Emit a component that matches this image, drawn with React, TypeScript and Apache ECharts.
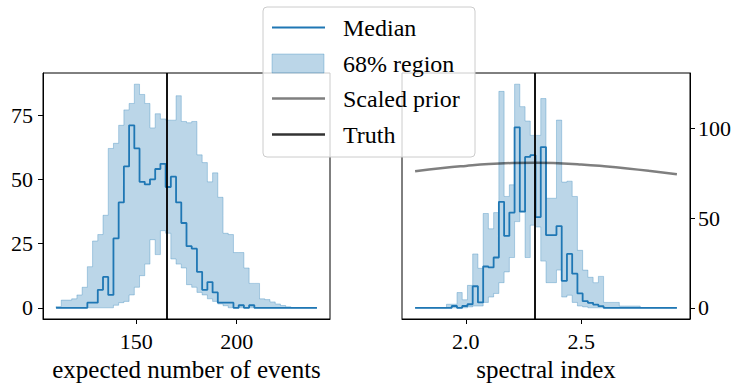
import React, { useEffect, useRef } from "react";
import * as echarts from "echarts";

// ---------- data ----------
const N_BINS = 50;
const EVENTS_RANGE = [110, 240];
const SPECTRAL_RANGE = [1.78, 2.915];
const TRUTH_EVENTS = 165;
const TRUTH_INDEX = 2.3;

const EVENTS_MEDIAN = [
  0, 0, 0, 0, 0, 0, 2, 2, 7, 12,
  5, 27, 41, 55, 71, 62, 49, 48, 50, 54,
  56, 47, 51, 41, 33, 24, 23, 14, 7, 10,
  6, 2, 2, 2, 0, 1, 0, 1, 0, 0,
  0, 0, 0, 0, 0, 0, 0, 0, 0, 0,
];
const EVENTS_UPPER = [
  0.5, 3, 3, 3.5, 5, 8, 16, 26, 28.5, 36,
  62, 64, 71, 77, 79.5, 87, 83, 79.5, 70, 75.5,
  73.5, 73, 73, 82.5, 72.5, 72, 72.5, 59.5, 56.5, 49,
  52.5, 43, 29, 28.5, 21.5, 21.5, 15.5, 9.5, 9.5, 3.5,
  3.2, 2.3, 1.5, 0.9, 0.4, 0, 0, 0, 0, 0,
];
const EVENTS_LOWER = [
  0, 0, 0, 0, 0, 0, 0, 0, 0, 0,
  0, 1, 2, 2.5, 5, 8, 12.5, 17, 26.5, 20.7,
  30, 29, 19, 17, 15.5, 9, 8, 6, 5, 3.5,
  2.5, 1.5, 0.8, 0, 0, 0, 0, 0, 0, 0,
  0, 0, 0, 0, 0, 0, 0, 0, 0, 0,
];

const SPECTRAL_MEDIAN = [
  0, 0, 0, 0, 0, 0, 0, 1, 0, 1,
  2, 12, 3, 23, 22.5, 28, 59, 40, 53, 100.5,
  53.5, 84, 85, 50.5, 89.5, 40.5, 40.5, 45.5, 15, 30,
  19, 8, 3.7, 2.8, 1.8, 0.9, 0, 0, 0, 0,
  0, 0, 0, 0, 0, 0, 0, 0, 0, 0,
];
const SPECTRAL_UPPER = [
  0, 0, 0, 0, 0, 0, 2, 2, 8.5, 4.5,
  12.5, 30, 22, 52.5, 44, 53, 120.5, 62, 68.5, 124.5,
  112, 104, 96, 96, 116.5, 61, 61, 104.5, 70, 70.5,
  62, 32, 21, 17, 14, 17.5, 3, 3, 3, 1,
  1, 1, 1, 0, 0, 0, 0, 0, 0, 0,
];
const SPECTRAL_LOWER = [
  0, 0, 0, 0, 0, 0, 0, 0, 0, 0,
  0.5, 1, 1, 3, 6, 8, 14, 20, 28, 48,
  54, 28, 46, 45, 26, 14, 14, 21, 6, 7,
  3, 1, 0.5, 0, 0, 0, 0, 0, 0, 0,
  0, 0, 0, 0, 0, 0, 0, 0, 0, 0,
];

const PRIOR_X = [1.78, 1.9, 2.0, 2.1, 2.2, 2.3, 2.4, 2.5, 2.6, 2.7, 2.8, 2.915];
const PRIOR_Y = [76.0, 77.8, 79.0, 80.0, 80.6, 80.8, 80.5, 79.8, 78.8, 77.6, 76.2, 74.4];

const EVENTS_TICKS = [150, 200];
const SPECTRAL_TICKS = [2.0, 2.5];
const EVENTS_Y_TICKS = [0, 25, 50, 75];
const SPECTRAL_Y_TICKS = [0, 50, 100];

const X_LABELS = ["expected number of events", "spectral index"];
const LEGEND_LABELS = ["Median", "68% region", "Scaled prior", "Truth"];

// ---------- helpers ----------
const BLUE = "#1f77b4";
const BAND = "rgba(31,119,180,0.3)";
const PRIOR_COLOR = "rgba(0,0,0,0.5)";
const TRUTH_COLOR = "rgba(0,0,0,0.92)";
const SERIF = "Liberation Serif";

function binEdges(range: number[], n: number) {
  const w = (range[1] - range[0]) / n;
  const e: number[] = [];
  for (let i = 0; i <= n; i++) e.push(range[0] + i * w);
  return e;
}

function stepData(edges: number[], vals: number[]) {
  return edges.map((e, i) => [e, vals[Math.min(i, vals.length - 1)]]);
}

function bandSeries(edges: number[], lower: number[], upper: number[], idx: number) {
  const data = lower.map((lo, i) => [edges[i], edges[i + 1], lo, upper[i]]);
  return {
    type: "custom",
    xAxisIndex: idx,
    yAxisIndex: idx,
    z: 1,
    encode: { x: [0, 1], y: [2, 3] },
    data,
    renderItem: (params: any, api: any) => {
      if (params.dataIndex !== 0) return null;
      const pts: number[][] = [];
      for (let i = 0; i < upper.length; i++) {
        pts.push(api.coord([edges[i], upper[i]]));
        pts.push(api.coord([edges[i + 1], upper[i]]));
      }
      for (let i = lower.length - 1; i >= 0; i--) {
        pts.push(api.coord([edges[i + 1], lower[i]]));
        pts.push(api.coord([edges[i], lower[i]]));
      }
      return {
        type: "polygon",
        shape: { points: pts },
        style: { fill: BAND, stroke: BAND, lineWidth: 1 },
      };
    },
  };
}

function xAxisCfg(idx: number, min: number, max: number, ticks: number[], fmt: (v: number) => string) {
  return {
    gridIndex: idx,
    type: "value",
    min,
    max,
    axisLine: { show: true, onZero: false, lineStyle: { color: "#000", width: 1 } },
    splitLine: { show: false },
    axisTick: { show: true, customValues: ticks, length: 5, lineStyle: { color: "#000", width: 1 } },
    axisLabel: {
      customValues: ticks,
      formatter: fmt,
      margin: 11,
      fontSize: 22,
      fontFamily: SERIF,
      color: "#000",
    },
  };
}

function yAxisCfg(idx: number, min: number, max: number, ticks: number[], pos: string, margin: number) {
  return {
    gridIndex: idx,
    type: "value",
    position: pos,
    min,
    max,
    axisLine: { show: true, onZero: false, lineStyle: { color: "#000", width: 1 } },
    splitLine: { show: false },
    axisTick: { show: true, customValues: ticks, length: 5, lineStyle: { color: "#000", width: 1 } },
    axisLabel: {
      customValues: ticks,
      formatter: (v: number) => String(v),
      margin,
      fontSize: 22,
      fontFamily: SERIF,
      color: "#000",
    },
  };
}

export default function App() {
  const ref = useRef<HTMLDivElement>(null);

  useEffect(() => {
    if (!ref.current) return;
    const chart = echarts.init(ref.current, undefined, { renderer: "svg" });

    const eEdges = binEdges(EVENTS_RANGE, N_BINS);
    const sEdges = binEdges(SPECTRAL_RANGE, N_BINS);

    const ePad = (EVENTS_RANGE[1] - EVENTS_RANGE[0]) * 0.05;
    const sPad = (SPECTRAL_RANGE[1] - SPECTRAL_RANGE[0]) * 0.05;
    const eMax = Math.max(...EVENTS_UPPER);
    const sMax = Math.max(...SPECTRAL_UPPER);

    const legendX = 272;
    const legendRows = [27.5, 63.5, 98.5, 134.5];
    const textX = 343;
    const textStyle = (t: string, align: string, size: number) => ({
      text: t,
      fontSize: size,
      fontFamily: SERIF,
      fill: "#000",
      align,
      verticalAlign: "middle",
    });

    const option: any = {
      animation: false,
      textStyle: { fontFamily: SERIF },
      grid: [
        { left: 43, top: 73, width: 287, height: 246, show: true, borderColor: "#000", borderWidth: 1, backgroundColor: "transparent" },
        { left: 402, top: 73, width: 288, height: 246, show: true, borderColor: "#000", borderWidth: 1, backgroundColor: "transparent" },
      ],
      xAxis: [
        xAxisCfg(0, EVENTS_RANGE[0] - ePad, EVENTS_RANGE[1] + ePad, EVENTS_TICKS, (v: number) => String(v)),
        xAxisCfg(1, SPECTRAL_RANGE[0] - sPad, SPECTRAL_RANGE[1] + sPad, SPECTRAL_TICKS, (v: number) => v.toFixed(1)),
      ],
      yAxis: [
        yAxisCfg(0, -eMax * 0.05, eMax * 1.05, EVENTS_Y_TICKS, "left", 10),
        yAxisCfg(1, -sMax * 0.05, sMax * 1.05, SPECTRAL_Y_TICKS, "right", 8),
      ],
      series: [
        bandSeries(eEdges, EVENTS_LOWER, EVENTS_UPPER, 0),
        {
          type: "line",
          xAxisIndex: 0,
          yAxisIndex: 0,
          z: 2,
          step: "end",
          symbol: "none",
          data: stepData(eEdges, EVENTS_MEDIAN),
          lineStyle: { color: BLUE, width: 1.8 },
          markLine: {
            silent: true,
            symbol: "none",
            label: { show: false },
            lineStyle: { color: TRUTH_COLOR, width: 2, type: "solid" },
            data: [{ xAxis: TRUTH_EVENTS }],
          },
        },
        bandSeries(sEdges, SPECTRAL_LOWER, SPECTRAL_UPPER, 1),
        {
          type: "line",
          xAxisIndex: 1,
          yAxisIndex: 1,
          z: 2,
          step: "end",
          symbol: "none",
          data: stepData(sEdges, SPECTRAL_MEDIAN),
          lineStyle: { color: BLUE, width: 1.8 },
        },
        {
          type: "line",
          xAxisIndex: 1,
          yAxisIndex: 1,
          z: 3,
          smooth: true,
          symbol: "none",
          data: PRIOR_X.map((x, i) => [x, PRIOR_Y[i]]),
          lineStyle: { color: PRIOR_COLOR, width: 2.5 },
          markLine: {
            silent: true,
            symbol: "none",
            label: { show: false },
            lineStyle: { color: TRUTH_COLOR, width: 2, type: "solid" },
            data: [{ xAxis: TRUTH_INDEX }],
          },
        },
      ],
      graphic: [
        { type: "text", x: 186.5, y: 369, style: textStyle(X_LABELS[0], "center", 25) },
        { type: "text", x: 546, y: 369, style: textStyle(X_LABELS[1], "center", 25) },
        {
          type: "rect",
          z: 100,
          shape: { x: 263, y: 7, width: 212, height: 150, r: 4 },
          style: { fill: "rgba(255,255,255,0.8)", stroke: "#cccccc", lineWidth: 1 },
        },
        {
          type: "line",
          z: 101,
          shape: { x1: legendX, y1: legendRows[0], x2: legendX + 53, y2: legendRows[0] },
          style: { stroke: BLUE, lineWidth: 2 },
        },
        {
          type: "rect",
          z: 101,
          shape: { x: legendX, y: legendRows[1] - 9.5, width: 52, height: 19 },
          style: { fill: BAND, stroke: BAND, lineWidth: 1 },
        },
        {
          type: "line",
          z: 101,
          shape: { x1: legendX, y1: legendRows[2], x2: legendX + 53, y2: legendRows[2] },
          style: { stroke: PRIOR_COLOR, lineWidth: 2.5 },
        },
        {
          type: "line",
          z: 101,
          shape: { x1: legendX, y1: legendRows[3], x2: legendX + 53, y2: legendRows[3] },
          style: { stroke: "rgba(0,0,0,0.8)", lineWidth: 2.5 },
        },
        ...LEGEND_LABELS.map((t, i) => ({
          type: "text",
          z: 101,
          x: textX,
          y: legendRows[i] + 0.5,
          style: textStyle(t, "left", 24),
        })),
      ],
    };

    chart.setOption(option);
    return () => chart.dispose();
  }, []);

  return (
    <div
      ref={ref}
      style={{ position: "fixed", left: 0, top: 0, width: 734, height: 386, background: "#fff" }}
    />
  );
}
